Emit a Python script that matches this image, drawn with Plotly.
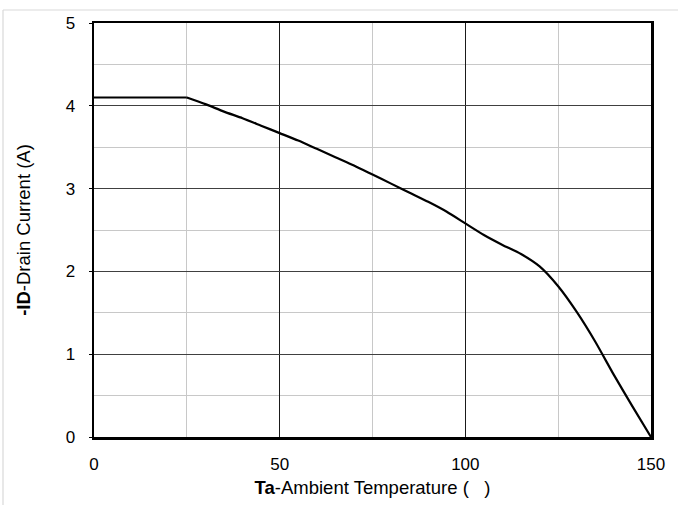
import plotly.graph_objects as go

# Data
temperature_c = [0, 25, 30, 35, 40, 45, 50, 55, 60, 65, 70, 75, 80, 85, 90, 95,
                 100, 105, 110, 115, 120, 125, 130, 135, 140, 145, 150]
drain_current_a = [4.1, 4.1, 4.02, 3.93, 3.85, 3.76, 3.67, 3.58, 3.48, 3.38, 3.28, 3.17,
                   3.06, 2.95, 2.84, 2.72, 2.58, 2.44, 2.32, 2.21, 2.06, 1.82, 1.51,
                   1.15, 0.75, 0.37, 0.0]
x_ticks = [0, 50, 100, 150]
y_ticks = [0, 1, 2, 3, 4, 5]

FONT = "Liberation Sans, Arial, sans-serif"

fig = go.Figure()
# flat part (sharp corner at 25 °C)
fig.add_trace(go.Scatter(
    x=temperature_c[:2], y=drain_current_a[:2], mode="lines",
    line=dict(color="black", width=2.2), showlegend=False, hoverinfo="skip",
))
# derating curve (smooth)
fig.add_trace(go.Scatter(
    x=temperature_c[1:], y=drain_current_a[1:], mode="lines",
    line=dict(color="black", width=2.2, shape="spline", smoothing=0.6),
    showlegend=False, hoverinfo="skip",
))

L, R, T, B = 94, 27, 23, 68
W, H = 678, 505
pw, ph = W - L - R, H - T - B

def px_x(px):
    return (px - L) / pw

def px_y(py):
    return (H - B - py) / ph

# light outer border of the chart image
fig.add_shape(type="line", xref="paper", yref="paper",
              x0=px_x(3), x1=px_x(W + 5), y0=px_y(10), y1=px_y(10),
              line=dict(color="#d9d9d9", width=1.2))
fig.add_shape(type="line", xref="paper", yref="paper",
              x0=px_x(3), x1=px_x(3), y0=px_y(10), y1=px_y(H + 5),
              line=dict(color="#d9d9d9", width=1.2))

fig.update_layout(
    width=W, height=H,
    margin=dict(l=L, r=R, t=T, b=B, pad=0, autoexpand=False),
    paper_bgcolor="white", plot_bgcolor="white",
    font=dict(family=FONT, size=17, color="black"),
    xaxis=dict(
        range=[0, 150], tickvals=x_ticks, ticktext=[str(v) for v in x_ticks],
        automargin=False,
        showgrid=True, gridcolor="#1a1a1a", gridwidth=1,
        minor=dict(dtick=25, tick0=0, showgrid=True, gridcolor="#c8c8c8", gridwidth=1),
        showline=True, linecolor="black", linewidth=2.5, mirror=True,
        zeroline=False, ticks="", ticklabelstandoff=10,
        tickfont=dict(size=17),
        title=dict(text="<b>Ta</b>-Ambient Temperature (   )",
                   font=dict(size=18.5), standoff=8),
    ),
    yaxis=dict(
        range=[0, 5], tickvals=y_ticks, ticktext=[str(v) for v in y_ticks],
        automargin=False,
        showgrid=True, gridcolor="#404040", gridwidth=1,
        minor=dict(dtick=0.5, tick0=0, showgrid=True, gridcolor="#c8c8c8", gridwidth=1),
        showline=True, linecolor="black", linewidth=2.5, mirror=True,
        zeroline=False, ticks="outside", ticklen=3, tickcolor="black", tickwidth=1,
        ticklabelstandoff=10,
        tickfont=dict(size=17),
        title=dict(text="<b>-ID</b>-Drain Current (A)",
                   font=dict(size=18.5), standoff=30),
    ),
)

fig.write_html("out.html",
               config={"displayModeBar": False, "staticPlot": True},
               post_script="document.body.style.margin='0';document.body.style.overflow='hidden';")
